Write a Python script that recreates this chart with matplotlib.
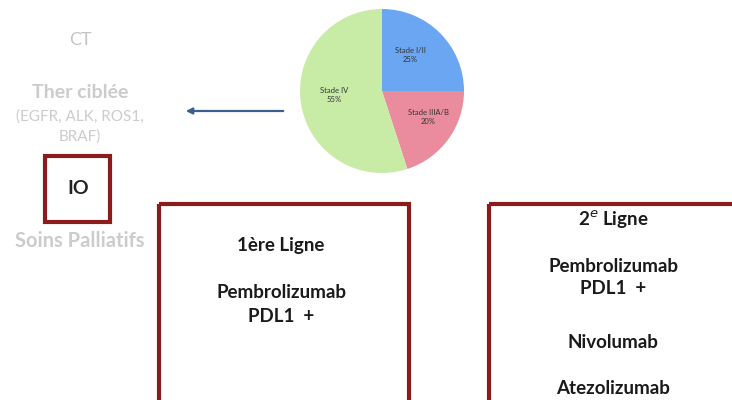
import matplotlib.pyplot as plt
from matplotlib.patches import Rectangle

plt.rcParams['font.family'] = ['Lato', 'DejaVu Sans']

# pie data
stages = ['Stade I/II', 'Stade IIIA/B', 'Stade IV']
shares = [25, 20, 55]
pie_colors = ['#6aa6f2', '#eb8c9e', '#c8eca6']

# left column of treatments
left_labels = ['CT', 'Ther ciblée', '(EGFR, ALK, ROS1,', 'BRAF)', 'IO', 'Soins Palliatifs']

# boxes
line1 = ['1ère Ligne', 'Pembrolizumab', 'PDL1  +']
line2 = ['2$^{e}$ Ligne', 'Pembrolizumab', 'PDL1  +', 'Nivolumab', 'Atezolizumab']

fig = plt.figure(figsize=(7.32, 4.0), dpi=100)
ax = fig.add_axes([0, 0, 1, 1])

wedges, texts = ax.pie(shares, colors=pie_colors, center=(382, 91), radius=82,
                       startangle=270, counterclock=True,
                       wedgeprops={'linewidth': 0})
ax.set_xlim(0, 732)
ax.set_ylim(400, 0)
ax.set_aspect('auto')
ax.axis('off')

label_pos = [(410, 55), (428, 117), (334, 95)]
for (x, y), name, v in zip(label_pos, stages, shares):
    ax.text(x, y, '{0}\n{1}%'.format(name, v), ha='center', va='center',
            fontsize=5.5, color='#333333', linespacing=1.3)

# arrow
ax.annotate('', xy=(183, 111), xytext=(286, 111),
            arrowprops=dict(arrowstyle='-|>', color='#3d5f8c', lw=1.6,
                            mutation_scale=9))

gray = '#cccccc'
ax.text(80, 40, left_labels[0], ha='center', va='center', fontsize=13, color='#c4c4c4')
ax.text(80, 93, left_labels[1], ha='center', va='center', fontsize=14,
        color=gray, fontweight='bold')
ax.text(80, 117, left_labels[2], ha='center', va='center', fontsize=11, color=gray)
ax.text(80, 137, left_labels[3], ha='center', va='center', fontsize=11, color=gray)
ax.add_patch(Rectangle((45, 156), 65, 66, fill=False, edgecolor='#8a1c1c', lw=3))
ax.text(78, 189, left_labels[4], ha='center', va='center', fontsize=14,
        color='#222222', fontweight='bold')
ax.text(80, 241, left_labels[5], ha='center', va='center', fontsize=14.5,
        color=gray, fontweight='bold')

txt = dict(ha='center', va='center', fontsize=13.5, fontweight='bold', color='#1a1a1a')

# first line box
ax.add_patch(Rectangle((159, 204), 250, 230, fill=False, edgecolor='#8a1c1c', lw=3))
for s, y in zip(line1, [246, 293, 317]):
    ax.text(281, y, s, **txt)

# second line box
ax.add_patch(Rectangle((489, 204), 300, 230, fill=False, edgecolor='#8a1c1c', lw=3))
for s, y in zip(line2, [220, 267, 289, 342, 388]):
    ax.text(613, y, s, **txt)

fig.savefig('out.png', dpi=100)
